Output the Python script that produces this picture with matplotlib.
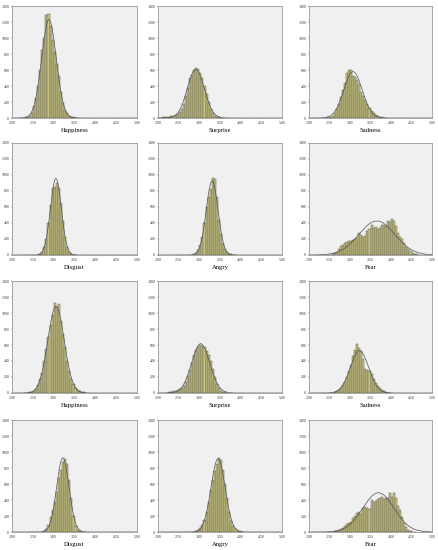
import numpy as np
import matplotlib
matplotlib.use("Agg")
import matplotlib.pyplot as plt

# bin width 0.05, each list starts at the given left edge
BIN = 0.05

happiness_a_start = 2.20
happiness_a = [3, 5, 8, 15, 30, 60, 145, 250, 400, 600, 850, 1000, 1290, 1300, 1150, 980,
               830, 680, 520, 330, 190, 100, 60, 30, 15, 10, 5, 3]

surprise_a_start = 2.00
surprise_a = [5, 6, 8, 10, 12, 15, 20, 28, 40, 55, 75, 110, 170, 270, 380, 500, 540, 600,
              625, 610, 560, 500, 400, 300, 200, 110, 60, 30, 15, 8, 4]

sadness_a_start = 2.40
sadness_a = [3, 8, 15, 30, 60, 110, 180, 260, 350, 440, 560, 600, 605, 520, 510, 480, 430,
             330, 270, 220, 170, 120, 85, 60, 40, 28, 18, 10, 6, 3]

disgust_a_start = 2.60
disgust_a = [5, 15, 40, 100, 200, 400, 620, 840, 850, 900, 840, 650, 430, 230, 100, 40, 15, 6, 2]

angry_a_start = 2.80
angry_a = [5, 15, 30, 60, 130, 230, 400, 600, 720, 830, 960, 950, 720, 440, 260, 140, 70,
           35, 15, 8, 4, 2]

fear_a_start = 2.45
fear_a = [3, 5, 10, 20, 40, 70, 110, 130, 150, 165, 180, 175, 190, 200, 215, 270, 255, 225,
          240, 300, 330, 370, 340, 355, 320, 340, 370, 380, 360, 420, 410, 450, 430, 360,
          280, 230, 200, 150, 100, 70, 45, 25, 15, 8, 5, 3, 2, 1]

happiness_b_start = 2.30
happiness_b = [3, 5, 8, 15, 30, 55, 100, 170, 250, 400, 550, 700, 850, 970, 1130, 1080, 1110,
               900, 740, 580, 400, 270, 170, 110, 65, 40, 25, 15, 8, 4]

surprise_b_start = 2.20
surprise_b = [5, 10, 15, 20, 28, 38, 50, 60, 90, 140, 210, 290, 380, 470, 540, 570, 600, 590,
              580, 530, 480, 400, 300, 200, 110, 60, 30, 15, 8, 4]

sadness_b_start = 2.55
sadness_b = [5, 10, 20, 35, 60, 100, 140, 200, 270, 350, 460, 540, 610, 560, 530, 420, 300,
             290, 270, 240, 170, 130, 90, 60, 35, 20, 10, 5, 3]

disgust_b_start = 2.75
disgust_b = [8, 40, 90, 190, 270, 380, 500, 670, 770, 880, 910, 850, 650, 420, 200, 70, 25, 10, 4]

angry_b_start = 2.80
angry_b = [3, 6, 12, 25, 50, 90, 150, 250, 380, 520, 650, 760, 850, 920, 900, 780, 600, 420,
           250, 140, 70, 35, 15, 7, 3]

fear_b_start = 2.55
fear_b = [3, 8, 15, 25, 40, 55, 80, 100, 110, 120, 175, 200, 240, 255, 230, 300, 310, 300,
          290, 400, 380, 385, 410, 420, 440, 410, 430, 420, 485, 440, 485, 420, 330, 270,
          190, 110, 60, 30, 15, 6, 3]

titles = ["Happiness", "Surprise", "Sadness", "Disgust", "Angry", "Fear"] * 2
panels = [(happiness_a_start, happiness_a), (surprise_a_start, surprise_a),
          (sadness_a_start, sadness_a), (disgust_a_start, disgust_a),
          (angry_a_start, angry_a), (fear_a_start, fear_a),
          (happiness_b_start, happiness_b), (surprise_b_start, surprise_b),
          (sadness_b_start, sadness_b), (disgust_b_start, disgust_b),
          (angry_b_start, angry_b), (fear_b_start, fear_b)]

x_ticks = [2.0, 2.5, 3.0, 3.5, 4.0, 4.5, 5.0]
y_ticks = [0, 200, 400, 600, 800, 1000, 1200, 1400]

W, H = 438, 550
fig = plt.figure(figsize=(W / 100, H / 100), dpi=100)
fig.patch.set_facecolor("white")

col_left = [12, 158, 309]
col_w = [125, 124, 123]
row_top = [6, 143, 281, 420]
row_h = 112

BAR_COL = "#c8c380"

for i, (start, counts) in enumerate(panels):
    r, c = divmod(i, 3)
    ax = fig.add_axes([col_left[c] / W, 1 - (row_top[r] + row_h) / H, col_w[c] / W, row_h / H])
    ax.set_facecolor("#f0f0f0")

    counts = np.array(counts, dtype=float)
    edges = start + BIN * np.arange(len(counts))
    ax.bar(edges, counts, width=BIN, align="edge", color=BAR_COL,
           edgecolor="#5a5a50", linewidth=0.35)

    # normal curve from the histogram itself
    centers = edges + BIN / 2
    n = counts.sum()
    mu = (centers * counts).sum() / n
    sd = np.sqrt(((centers - mu) ** 2 * counts).sum() / n)
    xs = np.linspace(2.0, 5.0, 400)
    ax.plot(xs, n * BIN / (sd * np.sqrt(2 * np.pi)) * np.exp(-0.5 * ((xs - mu) / sd) ** 2),
            color="#505050", linewidth=0.5)

    ax.set_xlim(2.0, 5.0)
    ax.set_ylim(0, 1400)
    ax.set_xticks(x_ticks)
    ax.set_xticklabels(["%.2f" % t for t in x_ticks])
    ax.set_yticks(y_ticks)
    ax.tick_params(labelsize=2.8, length=1, width=0.3, pad=1, colors="#333333")
    for s in ax.spines.values():
        s.set_color("#999999")
        s.set_linewidth(0.6)
    ax.set_xlabel(titles[i], fontsize=4.8, family="Liberation Serif", labelpad=2)
    for lab in ax.get_xticklabels() + ax.get_yticklabels():
        lab.set_family("Liberation Serif")

fig.savefig("out.png", dpi=100)
